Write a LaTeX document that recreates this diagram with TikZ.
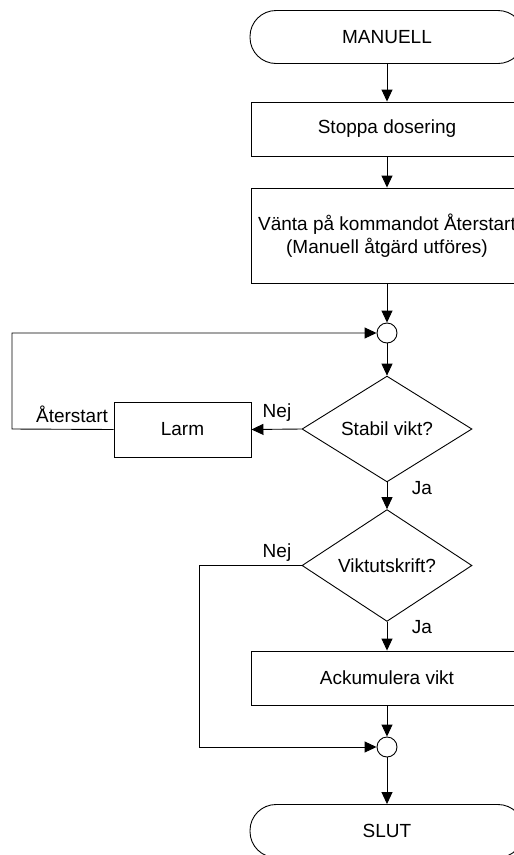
\documentclass[tikz,border=0pt]{standalone}
\usepackage{fontspec}
\setmainfont{Liberation Sans}
\usetikzlibrary{shapes.geometric,arrows.meta}
\begin{document}
\begin{tikzpicture}[x=1pt,y=-1pt,
  every node/.style={font=\fontsize{19}{23}\selectfont},
  line/.style={line width=0.9pt},
  arr/.style={line, -{Triangle[length=12pt,width=11pt]}},
  terminal/.style={draw, line width=0.9pt, rectangle, rounded corners=26pt, minimum width=274pt, minimum height=53pt, inner sep=0pt},
  procbox/.style={draw, line width=0.9pt, rectangle, minimum width=272pt, inner sep=0pt, align=center},
  decision/.style={draw, line width=0.9pt, diamond, inner sep=0pt, minimum width=170pt, minimum height=102pt},
  joint/.style={draw, line width=0.9pt, circle, minimum size=20pt, inner sep=0pt},
  lbl/.style={inner sep=0pt}]
\clip (0,0) rectangle (514,855);
\useasboundingbox (0,0) rectangle (514,855);
\node[terminal] (term1) at (387,37) {MANUELL};
\node[procbox, minimum height=54pt] (stop) at (387,129) {Stoppa dosering};
\node[procbox, minimum height=95pt] (wait) at (387,235.5) {Vänta på kommandot Återstart\\(Manuell åtgärd utföres)};
\node[joint] (c1) at (387,333) {};
\node[decision] (d1) at (387,429) {Stabil vikt?};
\node[procbox, minimum width=137pt, minimum height=55pt] (larm) at (182.5,429.5) {Larm};
\node[decision] (d2) at (387,565.5) {Viktutskrift?};
\node[procbox, minimum height=54pt] (acc) at (387,678) {Ackumulera vikt};
\node[joint] (c2) at (387,747) {};
\node[terminal] (term2) at (387,831) {SLUT};
\coordinate (L1) at (12,429);
\coordinate (L2) at (199,565.5);
\draw[arr] (term1) -- (stop);
\draw[arr] (stop) -- (wait);
\draw[arr] (wait) -- (c1);
\draw[arr] (c1) -- (d1);
\draw[arr] (d1.west) -- (larm.east);
\draw[arr] (larm.west) -- (L1) |- (c1.west);
\draw[arr] (d1.south) -- (d2.north);
\draw[arr] (d2.south) -- (acc.north);
\draw[arr] (d2.west) -- (L2) |- (c2.west);
\draw[arr] (acc) -- (c2);
\draw[arr] (c2) -- (term2);
\node[lbl] (nej1) at (277,413) {Nej};
\node[lbl] (aterstart) at (72,414) {Återstart};
\node[lbl] (ja1) at (422,488) {Ja};
\node[lbl] (nej2) at (277,553) {Nej};
\node[lbl] (ja2) at (422,627) {Ja};
\end{tikzpicture}
\end{document}
